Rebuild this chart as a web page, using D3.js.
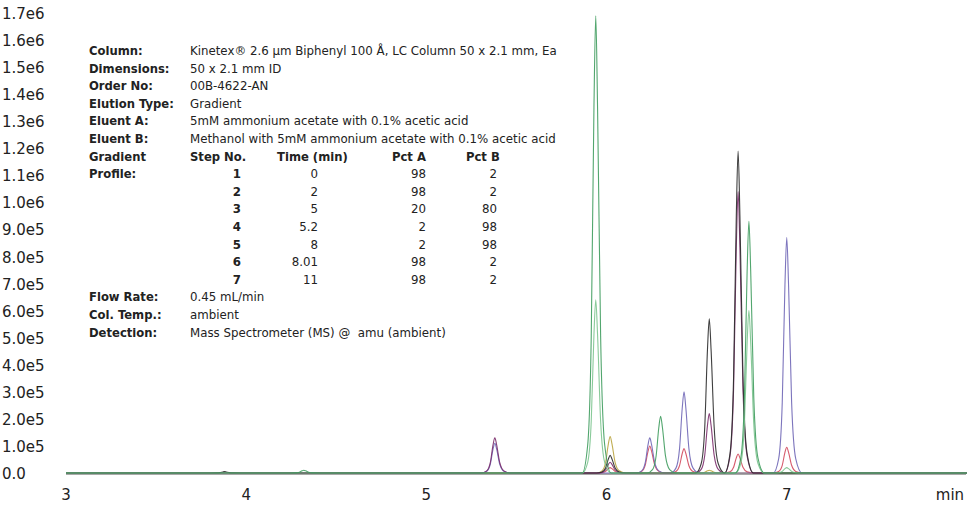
<!DOCTYPE html>
<html><head><meta charset="utf-8">
<script src="https://cdn.jsdelivr.net/npm/d3@7"></script>
<style>body{margin:0;background:#fff}svg{display:block}</style>
</head><body>
<svg id="chart" width="976" height="513"></svg>
<script>
// y tick labels and x ticks
const yTicks = [0,1e5,2e5,3e5,4e5,5e5,6e5,7e5,8e5,9e5,1e6,1.1e6,1.2e6,1.3e6,1.4e6,1.5e6,1.6e6,1.7e6];
const xTicks = [3,4,5,6,7];

// peaks per trace: [retention time (min), height]
const traceNames = ["olive","red","blue","purple","black","lightGreen","green"];
const traceColors = ["#b9a43f","#d2485c","#6f66b6","#7b2d6c","#2a2a2a","#7cc48e","#3f9c5e"];
const tracePeaks = [
  [[6.02,1.35e5],[6.57,0.1e5]],
  [[6.24,1.0e5],[6.43,0.9e5],[6.73,0.7e5],[7.00,0.95e5],[6.02,0.2e5]],
  [[5.38,1.1e5],[6.24,1.3e5],[6.43,3.0e5],[7.00,8.7e5]],
  [[5.38,1.3e5],[6.02,0.4e5],[6.57,2.2e5],[6.73,1.04e6]],
  [[3.88,0.05e5],[6.02,0.65e5],[6.57,5.7e5],[6.73,1.19e6]],
  [[5.94,6.4e5],[6.79,6.0e5],[7.00,0.2e5]],
  [[4.32,0.1e5],[5.94,1.69e6],[6.30,2.1e5],[6.79,9.3e5]]
];
// generic peak outline: [time offset, fraction of height]
const peakShape = [[-0.075,0],[-0.045,0.06],[-0.025,0.3],[-0.01,0.8],[0,1],[0.01,0.8],[0.027,0.3],[0.05,0.06],[0.085,0]];

// instrument info box
const infoLabels = ["Column:","Dimensions:","Order No:","Elution Type:","Eluent A:","Eluent B:","Gradient","Profile:"];
const infoValues = ["Kinetex® 2.6 µm Biphenyl 100 Å, LC Column 50 x 2.1 mm, Ea","50 x 2.1 mm ID","00B-4622-AN","Gradient","5mM ammonium acetate with 0.1% acetic acid","Methanol with 5mM ammonium acetate with 0.1% acetic acid"];
const gradHeader = ["Step No.","Time (min)","Pct A","Pct B"];
const gradSteps = ["1","2","3","4","5","6","7"];
const gradTime = ["0","2","5","5.2","8","8.01","11"];
const gradPctA = ["98","98","20","2","2","98","98"];
const gradPctB = ["2","2","80","98","98","2","2"];
const footLabels = ["Flow Rate:","Col. Temp.:","Detection:"];
const footValues = ["0.45 mL/min","ambient","Mass Spectrometer (MS) @\u00a0 amu (ambient)"];

const svg = d3.select("#chart");
const x = d3.scaleLinear().domain([3,8.3]).range([66,1021]);
const y = d3.scaleLinear().domain([0,1.7e6]).range([473,13]);
const font = "'DejaVu Sans', sans-serif";

// y labels
svg.append("g").selectAll("text").data(yTicks).enter().append("text")
  .attr("x",2).attr("y",d => y(d)+6)
  .attr("font-family",font).attr("font-size",15).attr("fill","#222")
  .text(d => d === 0 ? "0.0" : d3.format(".1e")(d).replace("e+","e"));

// x axis
svg.append("line").attr("x1",66).attr("x2",966).attr("y1",y(0)+1).attr("y2",y(0)+1).attr("stroke","#555");
svg.append("g").selectAll("text").data(xTicks).enter().append("text")
  .attr("x",d => x(d)).attr("y",500).attr("text-anchor","middle")
  .attr("font-family",font).attr("font-size",15).attr("fill","#222").text(d => d);
svg.append("text").attr("x",950).attr("y",500).attr("text-anchor","middle")
  .attr("font-family",font).attr("font-size",15).attr("fill","#222").text("min");

// traces
const line = d3.line().x(d => x(d[0])).y(d => y(d[1])).curve(d3.curveMonotoneX);
tracePeaks.forEach((peaks,i) => {
  let pts = [[3,0]];
  peaks.forEach(p => {
    peakShape.forEach(s => pts.push([p[0]+s[0], p[1]*s[1]]));
  });
  pts.push([8,0]);
  pts.sort((a,b) => a[0]-b[0]);
  svg.append("path").datum(pts).attr("d",line).attr("fill","none")
    .attr("stroke",traceColors[i]).attr("stroke-width",1.1).attr("opacity",0.9);
});

// info text
const info = svg.append("g").attr("font-family",font).attr("font-size",11.8).attr("fill","#222");
const row = i => 55 + i*17.6;
info.selectAll(".lab").data(infoLabels).enter().append("text")
  .attr("x",89).attr("y",(d,i) => row(i)).attr("font-weight","bold").attr("font-size",11.6).text(d => d);
info.selectAll(".val").data(infoValues).enter().append("text")
  .attr("x",190).attr("y",(d,i) => row(i)).text(d => d);
const headX = [190,277,392,466];
gradHeader.forEach((h,j) => {
  info.append("text").attr("x",headX[j]).attr("y",row(6))
    .attr("font-weight","bold").attr("font-size",11.6).text(h);
});
const colX = [241,318,426,497];
[gradSteps,gradTime,gradPctA,gradPctB].forEach((col,j) => {
  col.forEach((v,k) => {
    info.append("text").attr("x",colX[j]).attr("y",row(7+k)).attr("text-anchor","end")
      .attr("font-weight",j===0?"bold":"normal").text(v);
  });
});
footLabels.forEach((l,k) => {
  info.append("text").attr("x",89).attr("y",row(14+k)).attr("font-weight","bold").attr("font-size",11.6).text(l);
  info.append("text").attr("x",190).attr("y",row(14+k)).text(footValues[k]);
});
</script>
</body></html>
